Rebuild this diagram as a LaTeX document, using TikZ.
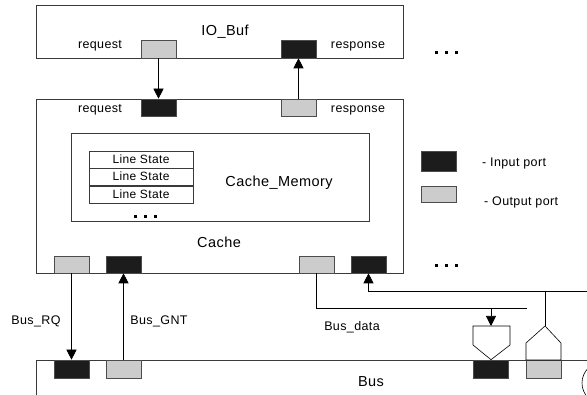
\documentclass[tikz,border=0pt]{standalone}
\usepackage{fontspec}
\setmainfont{Liberation Sans}[LetterSpace=3]
\usetikzlibrary{arrows.meta}
\definecolor{portblack}{HTML}{1C1C1C}
\definecolor{portgrey}{HTML}{CCCCCC}
\definecolor{boxc}{HTML}{3A3A3A}
\begin{document}
\begin{tikzpicture}[x=1pt,y=-1pt,
  box/.style={draw=boxc, line width=0.8pt, inner sep=0},
  inport/.style={draw=gray!60!black, fill=portblack, minimum width=35pt, minimum height=17pt, inner sep=0, line width=0.6pt},
  outport/.style={draw=gray!60!black, fill=portgrey, minimum width=35pt, minimum height=17pt, inner sep=0, line width=0.6pt},
  lsbox/.style={draw=boxc, line width=0.6pt, minimum width=104pt, minimum height=17pt, inner sep=0, font=\fontsize{12}{13}\selectfont},
  lbl/.style={font=\fontsize{12.5}{14}\selectfont, inner sep=0},
  big/.style={font=\fontsize{14.5}{16}\selectfont, inner sep=0},
  conn/.style={draw=black, line width=0.6pt},
  arr/.style={conn, -{Triangle[width=10pt,length=10pt]}},
  dot/.style={fill=black}
]
\useasboundingbox (0,0) rectangle (587,395);
% boxes
\node[box, minimum width=367pt, minimum height=53pt] (iobuf) at (219.5,31.5) {};
\node[box, minimum width=367pt, minimum height=174pt] (cache) at (219.5,186) {};
\node[box, minimum width=298pt, minimum height=88pt] (cmem) at (220,177) {};
\node[lsbox] (ls1) at (141,159.5) {Line State};
\node[lsbox] (ls2) at (141,176.5) {Line State};
\node[lsbox] (ls3) at (141,194.5) {Line State};
\draw[draw=boxc, line width=0.8pt] (36,395) -- (36,360) -- (587,360);
% labels
\node[big] (tio) at (225,32) {IO\_Buf};
\node[lbl] (t1) at (100,46) {request};
\node[lbl] (t2) at (358,46) {response};
\node[lbl] (t3) at (100,110) {request};
\node[lbl] (t4) at (358,110) {response};
\node[big] (tcm) at (279,183) {Cache\_Memory};
\node[big] (tc) at (219,242) {Cache};
\node[big] (tb) at (371,382) {Bus};
\node[lbl] (trq) at (36,321) {Bus\_RQ};
\node[lbl] (tgnt) at (159,321) {Bus\_GNT};
\node[lbl] (tdata) at (352,327) {Bus\_data};
% connectors
\coordinate (dend) at (527,308);
\coordinate (dsplit) at (491,308);
\coordinate (rin) at (587,291);
\coordinate (rsplit) at (545,291);
\coordinate (pdtop) at (491,326);
\coordinate (putop) at (545,326);
% ports
\node[outport, minimum height=18pt] (iobreq) at (158.5,49) {};
\node[inport, minimum height=18pt] (iobresp) at (298.5,49) {};
\node[inport] (creq) at (158.5,107.5) {};
\node[outport] (cresp) at (298.5,107.5) {};
\node[outport] (crq) at (71.5,264.5) {};
\node[inport] (cgnt) at (123.5,264.5) {};
\node[outport] (cdout) at (316.5,264.5) {};
\node[inport] (cdin) at (368.5,264.5) {};
\node[inport, minimum height=18pt] (brq) at (71.5,369) {};
\node[outport, minimum height=18pt] (bgnt) at (123.5,369) {};
\node[inport, minimum height=18pt] (bdin) at (491,369) {};
\node[outport, minimum height=18pt] (bdout) at (543.5,369) {};
\draw[arr] (iobreq.south) -- (creq.north);
\draw[arr] (cresp.north) -- (iobresp.south);
\draw[arr] (crq.south) -- (brq.north);
\draw[arr] (bgnt.north) -- (cgnt.south);
\draw[conn] (cdout.south) |- (dend);
\draw[arr] (dsplit) -- (pdtop);
\draw[conn] (473,326) -- (510,326) -- (510,345) -- (bdin.north) -- (473,345) -- cycle;
\draw[arr] (rin) -| (cdin.south);
\draw[conn] (rsplit) -- (putop);
\draw[conn] (putop) -- (561,343) -- (561,360) -- (526,360) -- (526,343) -- cycle;
% legend
\node[inport, minimum height=20pt] (legin) at (438.5,161) {};
\node[outport, minimum height=16pt] (legout) at (438.5,194) {};
\node[lbl, anchor=west] (tin) at (482,163) {- Input port};
\node[lbl, anchor=west] (tout) at (484,202) {- Output port};
% dots
\foreach \x in {436,446,456} {\fill[dot] (\x-1.5,51.5) rectangle (\x+1.5,54.5);}
\foreach \x in {436,446,456} {\fill[dot] (\x-1.5,264.5) rectangle (\x+1.5,267.5);}
\foreach \x in {135,145,155} {\fill[dot] (\x-1.5,215.5) rectangle (\x+1.5,218.5);}
% partial circle
\begin{scope}
\clip (0,0) rectangle (587,395);
\draw[conn] (603,383) circle (21);
\end{scope}
\end{tikzpicture}
\end{document}
